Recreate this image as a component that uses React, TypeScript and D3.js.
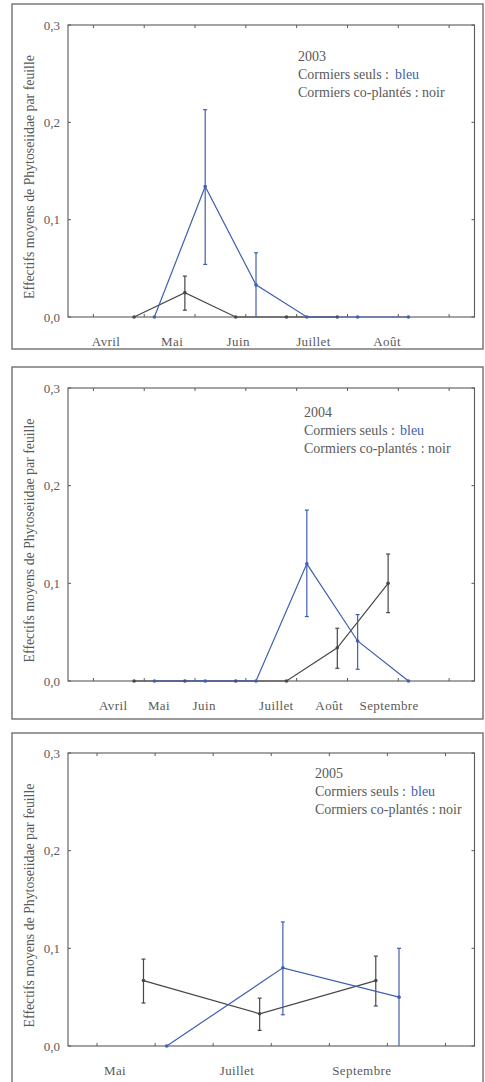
import React from 'react';
import * as d3 from 'd3';

// sampling index of each point (ticks sit on integer indices)
const idx2003Blue = [1, 2, 3, 4, 5, 6];
const idx2003Black = [1, 2, 3, 4, 5];
const idx2004Blue = [1, 2, 3, 4, 5, 6];
const idx2004Black = [1, 2, 3, 4, 5, 6];
const idx2005Blue = [1, 3, 5];
const idx2005Black = [1, 3, 5];

// Cormiers seuls (bleu)
const blue2003 = [0, 0.134, 0.033, 0, 0, 0];
const blue2003Lo = [0, 0.054, 0, 0, 0, 0];
const blue2003Hi = [0, 0.213, 0.066, 0, 0, 0];
const blue2004 = [0, 0, 0, 0.12, 0.041, 0];
const blue2004Lo = [0, 0, 0, 0.066, 0.012, 0];
const blue2004Hi = [0, 0, 0, 0.175, 0.068, 0];
const blue2005 = [0, 0.08, 0.05];
const blue2005Lo = [0, 0.032, 0];
const blue2005Hi = [0, 0.127, 0.1];

// Cormiers co-plantés (noir)
const black2003 = [0, 0.025, 0, 0, 0];
const black2003Lo = [0, 0.007, 0, 0, 0];
const black2003Hi = [0, 0.042, 0, 0, 0];
const black2004 = [0, 0, 0, 0, 0.034, 0.1];
const black2004Lo = [0, 0, 0, 0, 0.013, 0.07];
const black2004Hi = [0, 0, 0, 0, 0.054, 0.13];
const black2005 = [0.067, 0.033, 0.067];
const black2005Lo = [0.044, 0.016, 0.041];
const black2005Hi = [0.089, 0.049, 0.092];

// month labels and where they sit on the index axis
const months2003 = ['Avril', 'Mai', 'Juin', 'Juillet', 'Août'];
const monthPos2003 = [0.25, 1.55, 2.85, 4.33, 5.78];
const months2004 = ['Avril', 'Mai', 'Juin', 'Juillet', 'Août', 'Septembre'];
const monthPos2004 = [0.39, 1.29, 2.18, 3.6, 4.64, 5.82];
const months2005 = ['Mai', 'Juillet', 'Septembre'];
const monthPos2005 = [0.31, 2.41, 4.56];

const yTicks = [0, 0.1, 0.2, 0.3];
const yTitle = 'Effectifs moyens de Phytoseiidae par feuille';

const BLUE = '#3f5fb0';
const BLACK = '#474747';
const GREY = '#5a5a5a';
const FONT = "'Liberation Serif', 'DejaVu Serif', serif";

interface Series {
  idx: number[];
  v: number[];
  lo: number[];
  hi: number[];
}

interface PanelProps {
  year: string;
  frame: { y: number; h: number };
  top: number;
  bottom: number;
  nTicks: number;
  months: string[];
  monthPos: number[];
  blue: Series;
  black: Series;
  legendX: number;
  bleuX: number;
  legendY: number;
  coText: string;
}

const Trace: React.FC<{ s: Series; x: any; y: any; color: string; shift: number }> = ({ s, x, y, color, shift }) => {
  const pts: [number, number][] = s.v.map((v, i) => [x(s.idx[i] + shift), y(v)]);
  const line = d3.line();
  return (
    <g>
      <path d={line(pts) || ''} fill="none" stroke={color} strokeWidth={1.2} />
      {s.v.map((v, i) => {
        if (s.hi[i] - s.lo[i] <= 0) return null;
        const cx = x(s.idx[i] + shift);
        return (
          <g key={'e' + i} stroke={color} strokeWidth={1.2}>
            <line x1={cx} x2={cx} y1={y(s.lo[i])} y2={y(s.hi[i])} />
            <line x1={cx - 2} x2={cx + 2} y1={y(s.hi[i])} y2={y(s.hi[i])} />
            {s.lo[i] > 0 && <line x1={cx - 2} x2={cx + 2} y1={y(s.lo[i])} y2={y(s.lo[i])} />}
          </g>
        );
      })}
      {pts.map((p, i) => (
        <circle key={'p' + i} cx={p[0]} cy={p[1]} r={1.8} fill={color} />
      ))}
    </g>
  );
};

const Panel: React.FC<PanelProps> = (p) => {
  const left = 68;
  const right = 474.5;
  const x = d3.scaleLinear().domain([-0.5, p.nTicks - 0.5]).range([left, right]);
  const y = d3.scaleLinear().domain([0, 0.3]).range([p.bottom, p.top]);
  const fmt = (v: number) => d3.format('.1f')(v).replace('.', ',');
  const midY = (p.top + p.bottom) / 2 + 6;
  return (
    <g fontFamily={FONT}>
      <rect x={12} y={p.frame.y} width={471} height={p.frame.h} fill="none" stroke="#707070" strokeWidth={1.4} />
      <rect x={left} y={p.top} width={right - left} height={p.bottom - p.top} fill="none" stroke={GREY} strokeWidth={1.1} />
      {d3.range(p.nTicks).map((t) => (
        <g key={'xt' + t} stroke={GREY} strokeWidth={1}>
          <line x1={x(t)} x2={x(t)} y1={p.top} y2={p.top + 3} />
          <line x1={x(t)} x2={x(t)} y1={p.bottom} y2={p.bottom - 3} />
        </g>
      ))}
      {yTicks.map((t) => (
        <g key={'yt' + t}>
          <line x1={left} x2={left + 3} y1={y(t)} y2={y(t)} stroke={GREY} />
          <line x1={right} x2={right - 3} y1={y(t)} y2={y(t)} stroke={GREY} />
          <text x={60} y={y(t)} dy="0.35em" textAnchor="end" fontSize={13} fill={GREY}>
            {fmt(t)}
          </text>
        </g>
      ))}
      <text
        transform={`translate(34, ${midY}) rotate(-90)`}
        textAnchor="middle"
        fontSize={13.8}
        fill={GREY}
      >
        {yTitle}
      </text>
      {p.months.map((m, i) => (
        <text key={m} x={x(p.monthPos[i])} y={p.bottom + 29} textAnchor="middle" fontSize={13} fill={GREY} letterSpacing={0.4}>
          {m}
        </text>
      ))}
      <Trace s={p.black} x={x} y={y} color={BLACK} shift={-0.2} />
      <Trace s={p.blue} x={x} y={y} color={BLUE} shift={0.2} />
      <g fontSize={14} fill={GREY} style={{ whiteSpace: 'pre' }}>
        <text x={p.legendX} y={p.legendY}>{p.year}</text>
        <text x={p.legendX} y={p.legendY + 18}>Cormiers seuls :</text>
        <text x={p.bleuX} y={p.legendY + 18} fill={BLUE}>bleu</text>
        <text x={p.legendX} y={p.legendY + 36}>{p.coText}</text>
      </g>
    </g>
  );
};

export default function App() {
  return (
    <svg width={485} height={1082} style={{ position: 'absolute', left: 0, top: 0, background: '#fff' }}>
      <rect width={485} height={1082} fill="#fff" />
      <Panel
        year="2003"
        frame={{ y: 4, h: 345 }}
        top={25}
        bottom={317}
        nTicks={8}
        months={months2003}
        monthPos={monthPos2003}
        blue={{ idx: idx2003Blue, v: blue2003, lo: blue2003Lo, hi: blue2003Hi }}
        black={{ idx: idx2003Black, v: black2003, lo: black2003Lo, hi: black2003Hi }}
        legendX={298}
        bleuX={395}
        legendY={61}
        coText="Cormiers co-plantés : noir"
      />
      <Panel
        year="2004"
        frame={{ y: 367, h: 352 }}
        top={388}
        bottom={681}
        nTicks={8}
        months={months2004}
        monthPos={monthPos2004}
        blue={{ idx: idx2004Blue, v: blue2004, lo: blue2004Lo, hi: blue2004Hi }}
        black={{ idx: idx2004Black, v: black2004, lo: black2004Lo, hi: black2004Hi }}
        legendX={304}
        bleuX={400}
        legendY={417}
        coText="Cormiers  co-plantés : noir"
      />
      <Panel
        year="2005"
        frame={{ y: 733, h: 400 }}
        top={753}
        bottom={1046}
        nTicks={7}
        months={months2005}
        monthPos={monthPos2005}
        blue={{ idx: idx2005Blue, v: blue2005, lo: blue2005Lo, hi: blue2005Hi }}
        black={{ idx: idx2005Black, v: black2005, lo: black2005Lo, hi: black2005Hi }}
        legendX={315}
        bleuX={411}
        legendY={778}
        coText="Cormiers  co-plantés : noir"
      />
    </svg>
  );
}
